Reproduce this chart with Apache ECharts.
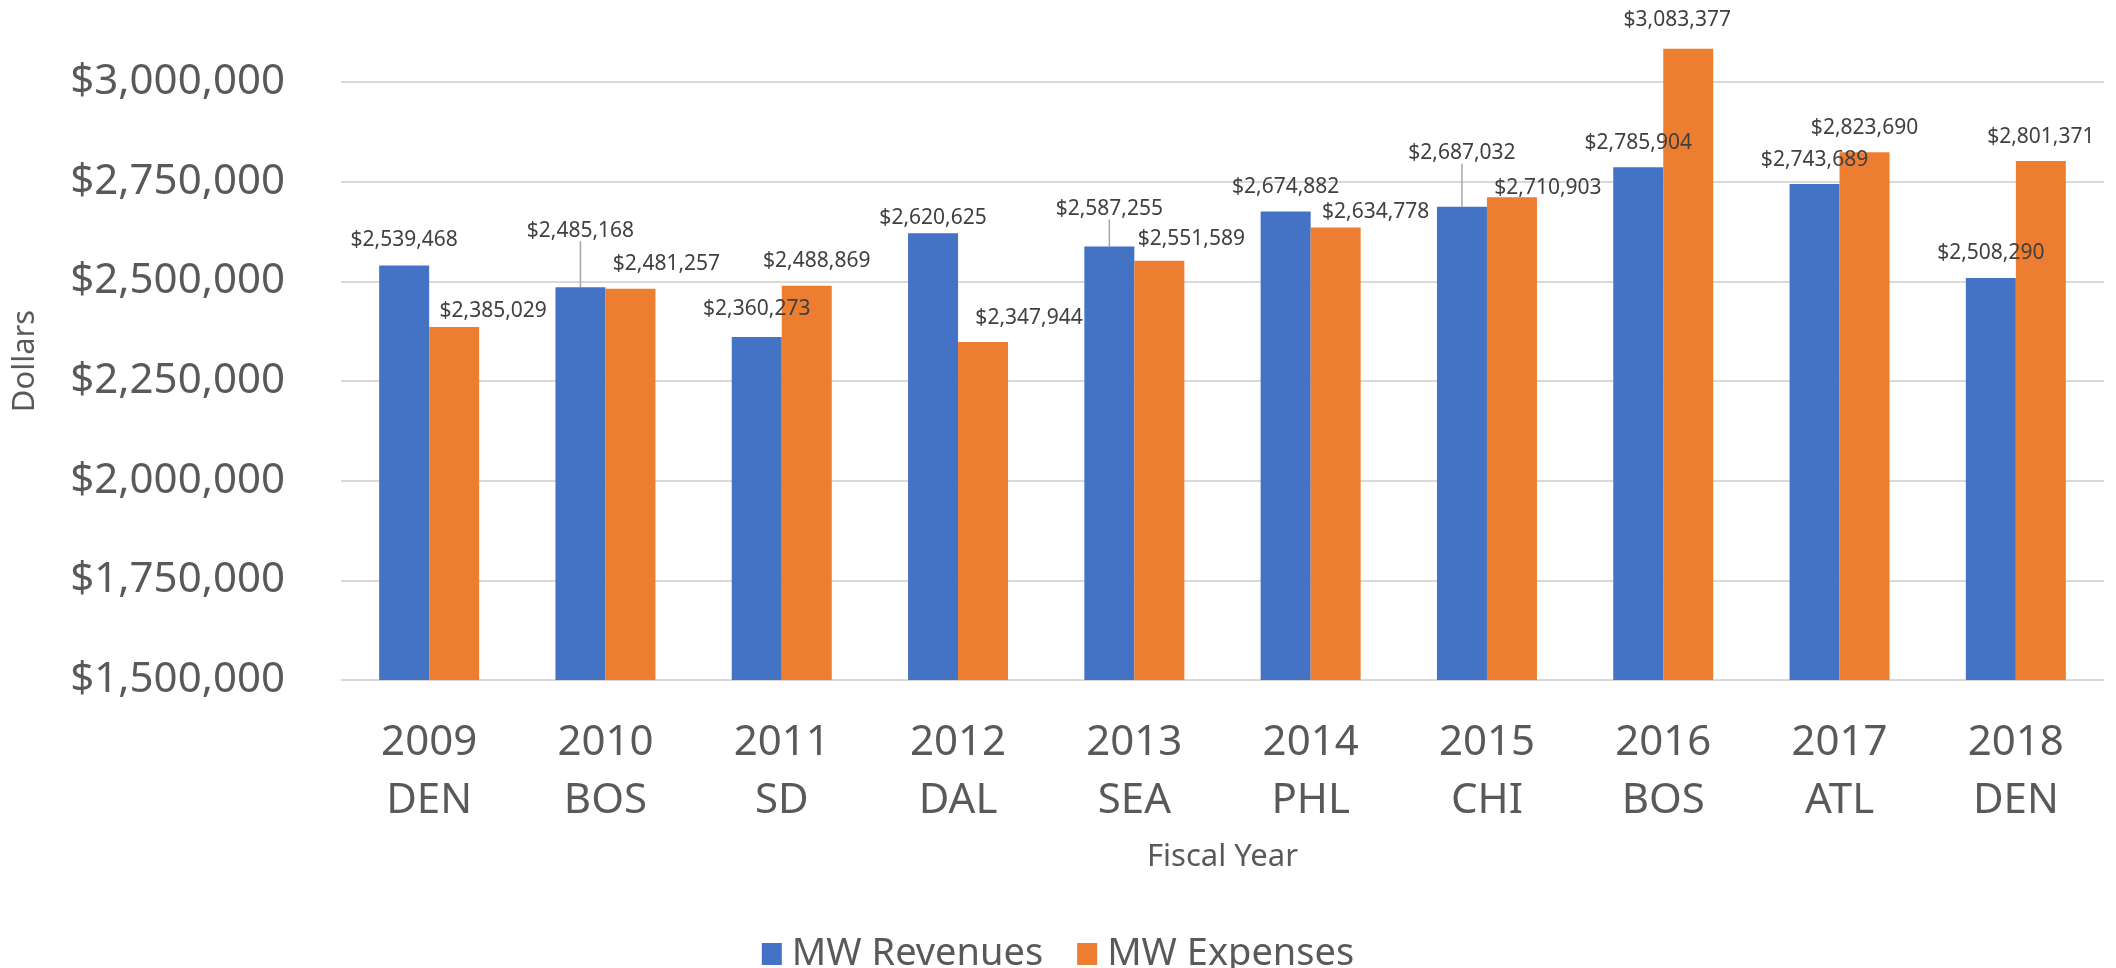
<!DOCTYPE html>
<html>
<head>
<meta charset="utf-8">
<script src="https://cdn.jsdelivr.net/npm/echarts@6/dist/echarts.min.js"></script>
<style>
  html, body { margin: 0; padding: 0; background: #ffffff; }
  #chart { width: 2116px; height: 968px; }
</style>
</head>
<body>
<div id="chart"></div>
<script>
// chart data
var categories = ["2009\nDEN", "2010\nBOS", "2011\nSD", "2012\nDAL", "2013\nSEA", "2014\nPHL", "2015\nCHI", "2016\nBOS", "2017\nATL", "2018\nDEN"];
var revenues = [2539468, 2485168, 2360273, 2620625, 2587255, 2674882, 2687032, 2785904, 2743689, 2508290];
var expenses = [2385029, 2481257, 2488869, 2347944, 2551589, 2634778, 2710903, 3083377, 2823690, 2801371];
var yMin = 1500000;
var yMax = 3100000; // top of plot; last labelled tick is 3,000,000
var yStep = 250000;

// hand placed data labels, as in the original (dx, dy in px)
var revLabelShift = [[0, 0], [0, -31], [0, -2], [0, 10], [0, -12], [0, 1], [0, -28], [0, 1], [0, 1], [0, 1]];
var expLabelShift = [[39, 9], [36, 1], [10, 1], [46, 2], [32, 4], [40, 10], [36, 16], [-11, -3], [0, 1], [0, 1]];
var leaderLines = [1, 4, 6];

function money(v) {
  return "$" + String(Math.round(v)).replace(/\B(?=(\d{3})+(?!\d))/g, ",");
}

var FONT = "Noto Sans";
var chart = echarts.init(document.getElementById("chart"));

var revData = revenues.map(function (v, i) {
  if (leaderLines.indexOf(i) >= 0) {
    return { value: v, labelLine: { show: true } };
  }
  return v;
});

var labelStyle = {
  show: true,
  position: "top",
  distance: 15,
  fontFamily: FONT,
  fontSize: 21,
  color: "#404040",
  formatter: function (p) {
    return money(p.value);
  }
};

var option = {
  backgroundColor: "#ffffff",
  animation: false,
  grid: {
    left: 341,
    right: 12,
    top: 42,
    bottom: 288
  },
  legend: {
    left: "center",
    top: 930,
    icon: "rect",
    itemWidth: 20,
    itemHeight: 22,
    itemGap: 34,
    textStyle: {
      fontFamily: FONT,
      fontSize: 38,
      color: "#595959",
      padding: [0, 0, 0, 5]
    },
    data: ["MW Revenues", "MW Expenses"]
  },
  xAxis: {
    type: "category",
    data: categories,
    name: "Fiscal Year",
    nameLocation: "middle",
    nameGap: 162,
    nameTextStyle: {
      fontFamily: FONT,
      fontSize: 31,
      color: "#595959"
    },
    axisLine: { show: false },
    axisTick: { show: false },
    axisLabel: {
      margin: 34,
      fontFamily: FONT,
      fontSize: 42,
      lineHeight: 58,
      color: "#595959"
    }
  },
  yAxis: {
    type: "value",
    min: yMin,
    max: yMax,
    interval: yStep,
    name: "Dollars",
    nameLocation: "middle",
    nameGap: 300,
    nameTextStyle: {
      fontFamily: FONT,
      fontSize: 31,
      color: "#595959"
    },
    axisLine: { show: false },
    axisTick: { show: false },
    axisLabel: {
      margin: 56,
      fontFamily: FONT,
      fontSize: 42,
      color: "#595959",
      showMaxLabel: false,
      formatter: function (v) {
        return v > 3000000 ? "" : money(v);
      }
    },
    splitLine: {
      showMaxLine: false,
      lineStyle: { color: "#d9d9d9", width: 2 }
    }
  },
  labelLayout: function (params) {
    var s = params.seriesIndex === 0 ? revLabelShift : expLabelShift;
    var d = s[params.dataIndex];
    return { dx: d[0], dy: d[1] };
  },
  series: [
    {
      name: "MW Revenues",
      type: "bar",
      data: revData,
      barWidth: 50,
      barGap: "0%",
      itemStyle: { color: "#4472c4" },
      label: labelStyle,
      labelLine: {
        show: false,
        lineStyle: { color: "#a6a6a6", width: 1.5 }
      }
    },
    {
      name: "MW Expenses",
      type: "bar",
      data: expenses,
      barWidth: 50,
      barGap: "0%",
      itemStyle: { color: "#ed7d31" },
      label: labelStyle
    }
  ]
};

chart.setOption(option);
</script>
</body>
</html>
